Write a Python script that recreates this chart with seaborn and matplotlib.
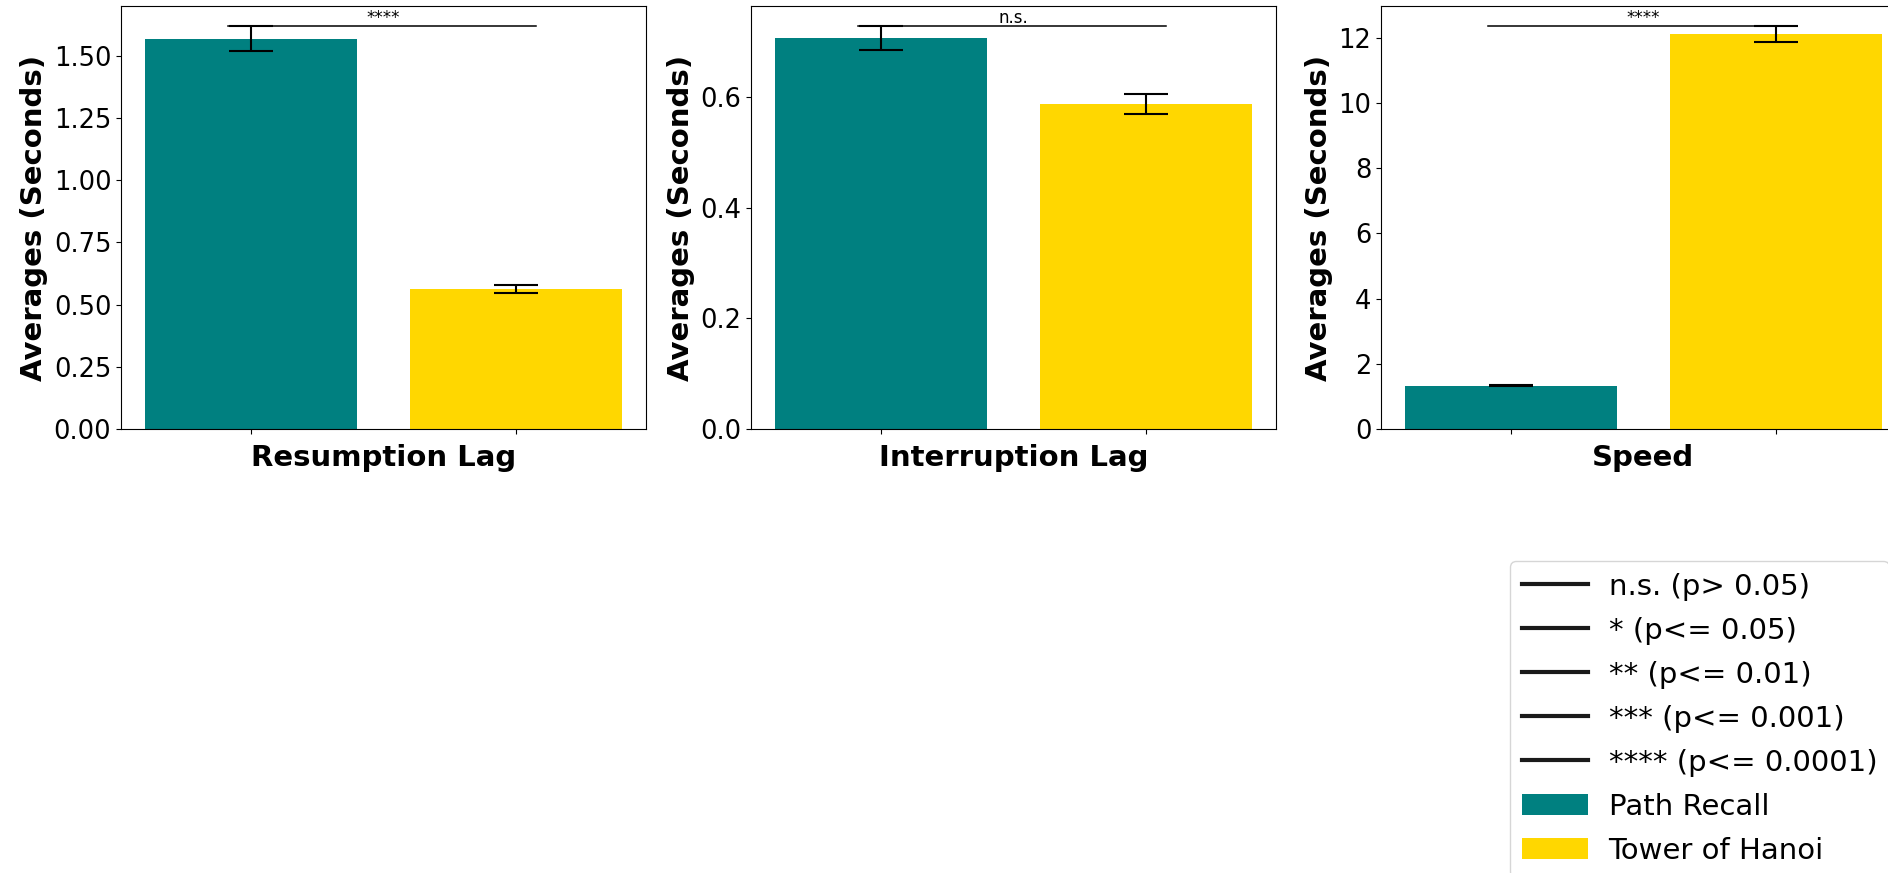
import matplotlib
matplotlib.use('Agg')
import matplotlib.pyplot as plt
import seaborn as sns
import pandas as pd
from matplotlib.lines import Line2D
from matplotlib.patches import Patch
from matplotlib.ticker import MultipleLocator

# ---- data ----
metrics = ['Resumption Lag', 'Interruption Lag', 'Speed']
groups = ['Path Recall', 'Tower of Hanoi']
path_recall_means = [1.570, 0.706, 1.33]
path_recall_errs = [0.050, 0.022, 0.012]
hanoi_means = [0.563, 0.587, 12.10]
hanoi_errs = [0.018, 0.018, 0.25]
sig_labels = ['****', 'n.s.', '****']
y_tick_steps = [0.25, 0.2, 2]
y_label = 'Averages (Seconds)'
legend_sig_labels = ['n.s. (p> 0.05)', '* (p<= 0.05)', '** (p<= 0.01)',
                     '*** (p<= 0.001)', '**** (p<= 0.0001)']
colors = ['teal', 'gold']

W, H = 1888, 873
fig = plt.figure(figsize=(W / 100, H / 100), dpi=100)

for i, metric in enumerate(metrics):
    left = (121 + 630 * i) / W
    ax = fig.add_axes([left, 1 - 429 / H, 525 / W, 423 / H])
    means = [path_recall_means[i], hanoi_means[i]]
    errs = [path_recall_errs[i], hanoi_errs[i]]
    df = pd.DataFrame({'group': groups, 'value': means})
    sns.barplot(data=df, x='group', y='value', hue='group', palette=colors,
                saturation=1, errorbar=None, width=0.8, legend=False, ax=ax)
    ax.errorbar([0, 1], means, yerr=errs, fmt='none', ecolor='black',
                elinewidth=1.5, capsize=16, capthick=1.5)
    top = max(m + e for m, e in zip(means, errs))
    ax.plot([-0.085, 1.075], [top, top], color='black', lw=1.1)
    ax.annotate(sig_labels[i], xy=(0.5, top), xytext=(0, 2),
                textcoords='offset points', ha='center', va='baseline',
                fontsize=12)
    ax.set_ylim(0, top * 1.05)
    ax.yaxis.set_major_locator(MultipleLocator(y_tick_steps[i]))
    ax.set_xlim(-0.49, 1.49)
    ax.set_xticks([0, 1])
    ax.set_xticklabels(['', ''])
    ax.set_xlabel(metric, fontsize=21, fontweight='bold')
    ax.set_ylabel(y_label, fontsize=21, fontweight='bold')
    ax.tick_params(axis='y', labelsize=18.5)

handles = [Line2D([], [], color='#1a1a1a', lw=3) for _ in legend_sig_labels]
handles += [Patch(facecolor=c) for c in colors]
labels = legend_sig_labels + groups
fig.legend(handles, labels, loc='upper left',
           bbox_to_anchor=(1510 / W, 1 - 561 / H), borderaxespad=0,
           fontsize=21, labelspacing=0.55, handlelength=2.26,
           handleheight=0.75, handletextpad=0.72)

fig.savefig('out.png', dpi=100)
